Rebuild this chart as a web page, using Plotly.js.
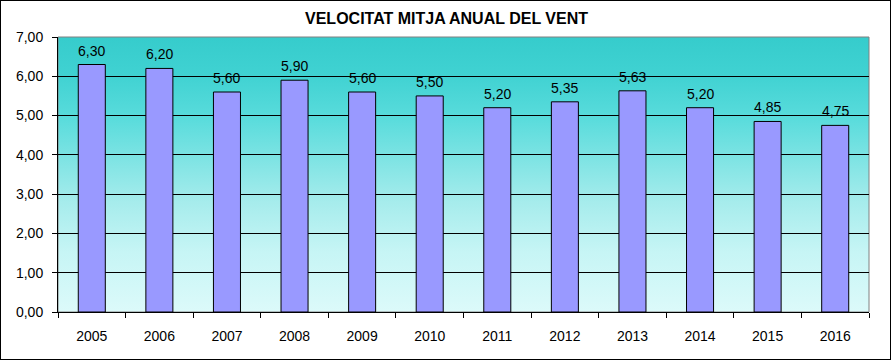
<!DOCTYPE html>
<html>
<head>
<meta charset="utf-8">
<script src="https://cdn.plot.ly/plotly-3.0.1.min.js"></script>
<style>
  html, body { margin: 0; padding: 0; background: #fff; }
  #wrap { position: relative; width: 893px; height: 363px; }
  #chart { width: 893px; height: 363px; }
  #frame { position: absolute; left: 0; top: 0; width: 889px; height: 358px; border: 1px solid #000; pointer-events: none; }
</style>
</head>
<body>
<div id="wrap"><div id="chart"></div><div id="frame"></div></div>
<script>
const years = ['2005','2006','2007','2008','2009','2010','2011','2012','2013','2014','2015','2016'];
const windSpeed = [6.30, 6.20, 5.60, 5.90, 5.60, 5.50, 5.20, 5.35, 5.63, 5.20, 4.85, 4.75];
const labels = ['6,30','6,20','5,60','5,90','5,60','5,50','5,20','5,35','5,63','5,20','4,85','4,75'];
const chartTitle = 'VELOCITAT MITJA ANUAL DEL VENT';

const svg = "<svg xmlns='http://www.w3.org/2000/svg' width='100' height='100' viewBox='0 0 100 100' preserveAspectRatio='none'>" +
  "<defs><linearGradient id='g' x1='0' y1='0' x2='0' y2='1'>" +
  "<stop offset='0' stop-color='#36CCCC'/>" +
  "<stop offset='0.14' stop-color='#40D2D2'/>" +
  "<stop offset='0.30' stop-color='#5ADCDC'/>" +
  "<stop offset='0.45' stop-color='#80E4E4'/>" +
  "<stop offset='0.60' stop-color='#A6ECEC'/>" +
  "<stop offset='0.78' stop-color='#C6F5F5'/>" +
  "<stop offset='1' stop-color='#DCFAFA'/>" +
  "</linearGradient></defs><rect width='100' height='100' fill='url(#g)'/></svg>";
const bgHref = 'data:image/svg+xml;charset=utf-8,' + encodeURIComponent(svg);

const font = 'Liberation Sans, Arial, sans-serif';

const trace = {
  type: 'bar',
  x: years,
  y: windSpeed,
  width: 0.4,
  marker: { color: '#9999FF', line: { color: '#000', width: 1 } },
  hoverinfo: 'skip'
};

const annotations = years.map((yr, i) => ({
  x: i, y: windSpeed[i], xref: 'x', yref: 'y',
  text: labels[i], showarrow: false,
  yanchor: 'bottom', yshift: 4,
  font: { family: font, size: 14, color: '#000' }
}));

const layout = {
  width: 893, height: 363,
  margin: { l: 58, r: 24, t: 37, b: 51 },
  paper_bgcolor: '#fff',
  plot_bgcolor: 'rgba(0,0,0,0)',
  separators: ',.',
  showlegend: false,
  title: {
    text: chartTitle,
    font: { family: font, size: 16, color: '#000', weight: 'bold' },
    x: 0.5, xref: 'container', xanchor: 'center',
    y: 19, yref: 'container', yanchor: 'middle'
  },
  xaxis: {
    type: 'category',
    categoryarray: years, categoryorder: 'array',
    range: [-0.5, years.length - 0.5],
    autorange: false,
    tickson: 'boundaries',
    ticks: 'outside', ticklen: 5, tickcolor: '#000', tickwidth: 1,
    showline: true, linecolor: '#000', linewidth: 1,
    showgrid: false,
    tickangle: 0,
    ticklabelstandoff: 11,
    tickfont: { family: font, size: 14, color: '#000' }
  },
  yaxis: {
    range: [0, 7], autorange: false, dtick: 1, tick0: 0,
    tickformat: '.2f',
    ticks: 'outside', ticklen: 5, tickcolor: '#000', tickwidth: 1,
    showline: true, linecolor: '#000', linewidth: 1,
    showgrid: true, gridcolor: '#000', gridwidth: 1,
    zeroline: false,
    ticklabelstandoff: 6,
    tickfont: { family: font, size: 14, color: '#000' }
  },
  images: [{
    source: bgHref, xref: 'paper', yref: 'paper',
    x: 0, y: 1, sizex: 1, sizey: 1,
    xanchor: 'left', yanchor: 'top',
    sizing: 'stretch', layer: 'below'
  }],
  shapes: [{
    type: 'rect', xref: 'paper', yref: 'paper',
    x0: 0, x1: 1, y0: 0, y1: 1,
    line: { color: '#808080', width: 1 }, layer: 'below'
  }],
  annotations: annotations
};

Plotly.newPlot('chart', [trace], layout, { displayModeBar: false, staticPlot: true });
</script>
</body>
</html>
